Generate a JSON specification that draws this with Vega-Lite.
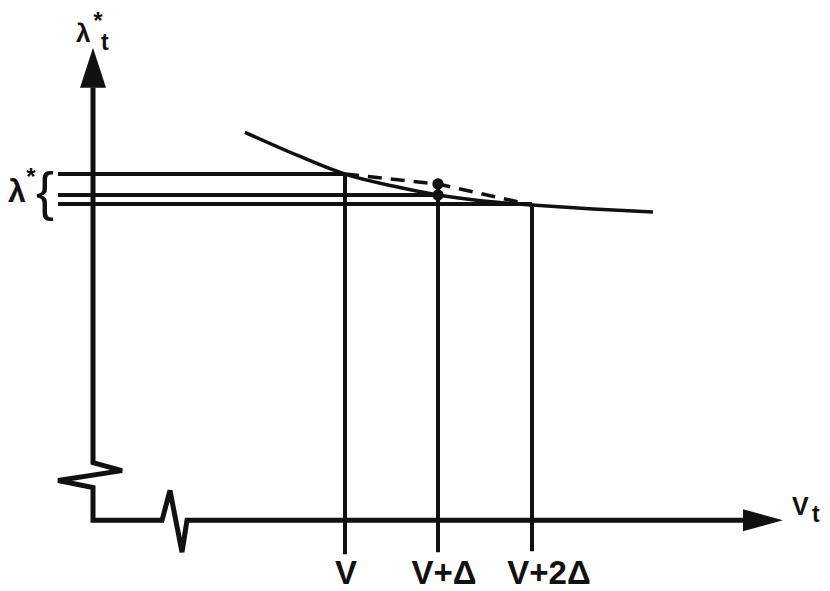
{
  "$schema": "https://vega.github.io/schema/vega-lite/v6.json",
  "width": 830,
  "height": 591,
  "autosize": {"type": "fit", "contains": "padding"},
  "padding": 0,
  "background": "white",
  "config": {"view": {"stroke": null}},
  "datasets": {
    "axis": [
      {"i": 0, "x": 0, "y": 435}, {"i": 1, "x": 0, "y": 58}, {"i": 2, "x": 29, "y": 50},
      {"i": 3, "x": -35, "y": 40}, {"i": 4, "x": 0, "y": 33}, {"i": 5, "x": 0, "y": 0},
      {"i": 6, "x": 69, "y": 0}, {"i": 7, "x": 77, "y": 30}, {"i": 8, "x": 89, "y": -32},
      {"i": 9, "x": 94, "y": 0}, {"i": 10, "x": 655, "y": 0}
    ],
    "curve": [
      {"x": 152, "y": 390}, {"x": 204, "y": 367}, {"x": 252, "y": 348}, {"x": 300, "y": 336},
      {"x": 345, "y": 327}, {"x": 390, "y": 321}, {"x": 439, "y": 317}, {"x": 500, "y": 313},
      {"x": 560, "y": 310}
    ],
    "chord": [{"x": 252, "y": 348}, {"x": 345, "y": 338}, {"x": 439, "y": 317}],
    "hlines": [
      {"x": -35, "x2": 252, "y": 348}, {"x": -35, "x2": 345, "y": 327}, {"x": -35, "x2": 439, "y": 318}
    ],
    "vlines": [
      {"x": 252, "y": 348, "y2": -34}, {"x": 345, "y": 338, "y2": -32}, {"x": 439, "y": 317, "y2": -31}
    ],
    "dots": [{"x": 345, "y": 338}, {"x": 345, "y": 327}],
    "yarrow": [{"x": 0, "y": 455}],
    "xarrow": [{"x": 670, "y": 0}],
    "ticklabels": [
      {"x": 253, "y": -64, "t": "V"}, {"x": 351, "y": -64, "t": "V+Δ"}, {"x": 456, "y": -64, "t": "V+2Δ"}
    ],
    "vt": [{"x": 699, "y": 5, "t": "V"}],
    "toplambda": [{"x": -17, "y": 481, "t": "λ"}],
    "lowlambda": [{"x": -85, "y": 320, "t": "λ"}],
    "subs": [{"x": 719, "y": -2, "t": "t"}, {"x": 8, "y": 473, "t": "t"}],
    "stars": [{"x": 5, "y": 494, "t": "*"}, {"x": -62, "y": 337, "t": "*"}],
    "brace": [{"x": -48, "y": 312, "t": "{"}]
  },
  "layer": [
    {
      "data": {"name": "axis"},
      "mark": {"type": "line", "color": "#111", "strokeWidth": 5, "strokeJoin": "miter"},
      "encoding": {
        "x": {"field": "x", "type": "quantitative", "scale": {"domain": [-93, 737], "nice": false, "zero": false}, "axis": null},
        "y": {"field": "y", "type": "quantitative", "scale": {"domain": [-68, 523], "nice": false, "zero": false}, "axis": null},
        "order": {"field": "i"}
      }
    },
    {
      "data": {"name": "curve"},
      "mark": {"type": "line", "color": "#111", "strokeWidth": 3.5, "interpolate": "monotone"},
      "encoding": {
        "x": {"field": "x", "type": "quantitative", "scale": {"domain": [-93, 737], "nice": false, "zero": false}, "axis": null},
        "y": {"field": "y", "type": "quantitative", "scale": {"domain": [-68, 523], "nice": false, "zero": false}, "axis": null}
      }
    },
    {
      "data": {"name": "chord"},
      "mark": {"type": "line", "color": "#111", "strokeWidth": 3.5, "strokeDash": [14, 9]},
      "encoding": {
        "x": {"field": "x", "type": "quantitative", "scale": {"domain": [-93, 737], "nice": false, "zero": false}, "axis": null},
        "y": {"field": "y", "type": "quantitative", "scale": {"domain": [-68, 523], "nice": false, "zero": false}, "axis": null}
      }
    },
    {
      "data": {"name": "hlines"},
      "mark": {"type": "rule", "color": "#111", "strokeWidth": 4},
      "encoding": {
        "x": {"field": "x", "type": "quantitative", "scale": {"domain": [-93, 737], "nice": false, "zero": false}, "axis": null},
        "x2": {"field": "x2"},
        "y": {"field": "y", "type": "quantitative", "scale": {"domain": [-68, 523], "nice": false, "zero": false}, "axis": null}
      }
    },
    {
      "data": {"name": "vlines"},
      "mark": {"type": "rule", "color": "#111", "strokeWidth": 4},
      "encoding": {
        "x": {"field": "x", "type": "quantitative", "scale": {"domain": [-93, 737], "nice": false, "zero": false}, "axis": null},
        "y": {"field": "y", "type": "quantitative", "scale": {"domain": [-68, 523], "nice": false, "zero": false}, "axis": null},
        "y2": {"field": "y2"}
      }
    },
    {
      "data": {"name": "dots"},
      "mark": {"type": "point", "shape": "circle", "filled": true, "color": "#111", "opacity": 1, "size": 130},
      "encoding": {
        "x": {"field": "x", "type": "quantitative", "scale": {"domain": [-93, 737], "nice": false, "zero": false}, "axis": null},
        "y": {"field": "y", "type": "quantitative", "scale": {"domain": [-68, 523], "nice": false, "zero": false}, "axis": null}
      }
    },
    {
      "data": {"name": "yarrow"},
      "mark": {"type": "point", "shape": "M0,-1L0.65,1L-0.65,1Z", "filled": true, "color": "#111", "opacity": 1, "size": 1600},
      "encoding": {
        "x": {"field": "x", "type": "quantitative", "scale": {"domain": [-93, 737], "nice": false, "zero": false}, "axis": null},
        "y": {"field": "y", "type": "quantitative", "scale": {"domain": [-68, 523], "nice": false, "zero": false}, "axis": null}
      }
    },
    {
      "data": {"name": "xarrow"},
      "mark": {"type": "point", "shape": "M1,0L-1,-0.55L-1,0.55Z", "filled": true, "color": "#111", "opacity": 1, "size": 1600},
      "encoding": {
        "x": {"field": "x", "type": "quantitative", "scale": {"domain": [-93, 737], "nice": false, "zero": false}, "axis": null},
        "y": {"field": "y", "type": "quantitative", "scale": {"domain": [-68, 523], "nice": false, "zero": false}, "axis": null}
      }
    },
    {
      "data": {"name": "ticklabels"},
      "mark": {"type": "text", "font": "Liberation Sans", "fontWeight": "bold", "fontSize": 33, "color": "#111", "align": "center", "baseline": "alphabetic"},
      "encoding": {
        "x": {"field": "x", "type": "quantitative", "scale": {"domain": [-93, 737], "nice": false, "zero": false}, "axis": null},
        "y": {"field": "y", "type": "quantitative", "scale": {"domain": [-68, 523], "nice": false, "zero": false}, "axis": null},
        "text": {"field": "t"}
      }
    },
    {
      "data": {"name": "vt"},
      "mark": {"type": "text", "font": "Liberation Sans", "fontWeight": "bold", "fontSize": 25, "color": "#111", "align": "left", "baseline": "alphabetic"},
      "encoding": {
        "x": {"field": "x", "type": "quantitative", "scale": {"domain": [-93, 737], "nice": false, "zero": false}, "axis": null},
        "y": {"field": "y", "type": "quantitative", "scale": {"domain": [-68, 523], "nice": false, "zero": false}, "axis": null},
        "text": {"field": "t"}
      }
    },
    {
      "data": {"name": "toplambda"},
      "mark": {"type": "text", "font": "Liberation Sans", "fontWeight": "bold", "fontSize": 26, "color": "#111", "align": "left", "baseline": "alphabetic"},
      "encoding": {
        "x": {"field": "x", "type": "quantitative", "scale": {"domain": [-93, 737], "nice": false, "zero": false}, "axis": null},
        "y": {"field": "y", "type": "quantitative", "scale": {"domain": [-68, 523], "nice": false, "zero": false}, "axis": null},
        "text": {"field": "t"}
      }
    },
    {
      "data": {"name": "lowlambda"},
      "mark": {"type": "text", "font": "Liberation Sans", "fontWeight": "bold", "fontSize": 32, "color": "#111", "align": "left", "baseline": "alphabetic"},
      "encoding": {
        "x": {"field": "x", "type": "quantitative", "scale": {"domain": [-93, 737], "nice": false, "zero": false}, "axis": null},
        "y": {"field": "y", "type": "quantitative", "scale": {"domain": [-68, 523], "nice": false, "zero": false}, "axis": null},
        "text": {"field": "t"}
      }
    },
    {
      "data": {"name": "subs"},
      "mark": {"type": "text", "font": "Liberation Sans", "fontWeight": "bold", "fontSize": 23, "color": "#111", "align": "left", "baseline": "alphabetic"},
      "encoding": {
        "x": {"field": "x", "type": "quantitative", "scale": {"domain": [-93, 737], "nice": false, "zero": false}, "axis": null},
        "y": {"field": "y", "type": "quantitative", "scale": {"domain": [-68, 523], "nice": false, "zero": false}, "axis": null},
        "text": {"field": "t"}
      }
    },
    {
      "data": {"name": "stars"},
      "mark": {"type": "text", "font": "Liberation Sans", "fontWeight": "bold", "fontSize": 24, "color": "#111", "align": "center", "baseline": "alphabetic"},
      "encoding": {
        "x": {"field": "x", "type": "quantitative", "scale": {"domain": [-93, 737], "nice": false, "zero": false}, "axis": null},
        "y": {"field": "y", "type": "quantitative", "scale": {"domain": [-68, 523], "nice": false, "zero": false}, "axis": null},
        "text": {"field": "t"}
      }
    },
    {
      "data": {"name": "brace"},
      "mark": {"type": "text", "font": "Liberation Sans", "fontSize": 54, "color": "#111", "align": "center", "baseline": "alphabetic"},
      "encoding": {
        "x": {"field": "x", "type": "quantitative", "scale": {"domain": [-93, 737], "nice": false, "zero": false}, "axis": null},
        "y": {"field": "y", "type": "quantitative", "scale": {"domain": [-68, 523], "nice": false, "zero": false}, "axis": null},
        "text": {"field": "t"}
      }
    }
  ]
}
